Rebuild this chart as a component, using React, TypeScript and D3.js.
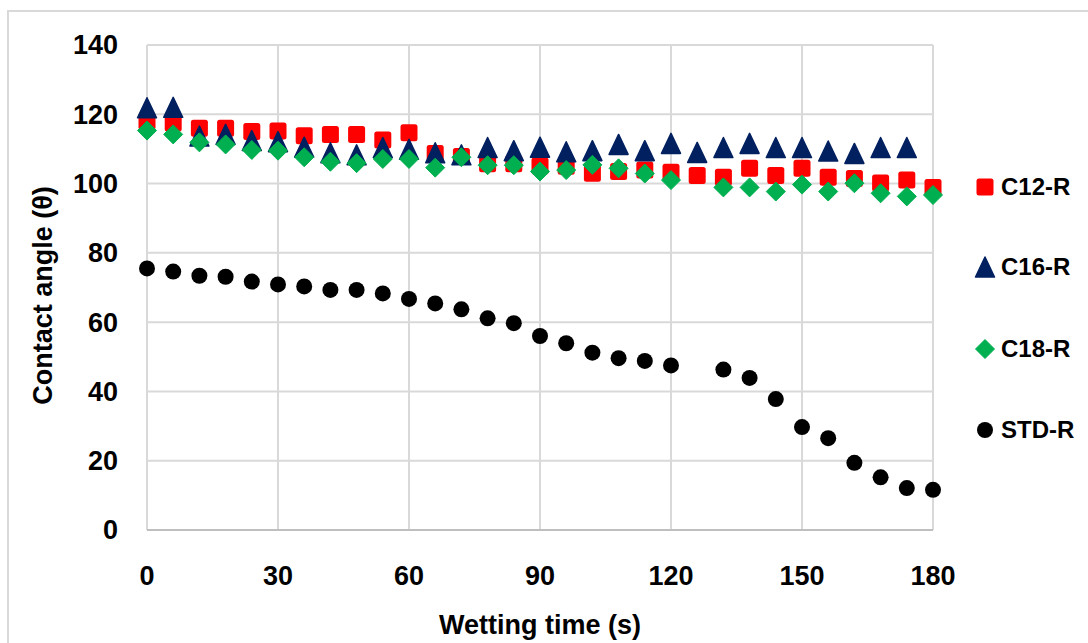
import React from "react";
import * as d3 from "d3";

const times = [0, 6, 12, 18, 24, 30, 36, 42, 48, 54, 60, 66, 72, 78, 84, 90, 96, 102, 108, 114, 120, 126, 132, 138, 144, 150, 156, 162, 168, 174, 180];
const c12 = [118, 117.5, 116, 116, 115, 115.2, 113.8, 114.2, 114.2, 112.6, 114.7, 108.7, 107.8, 105.7, 105.7, 105.1, 105, 103, 103.5, 103.9, 103.3, 102.3, 101.8, 104.4, 102.3, 104.4, 101.8, 101.5, 100.2, 101, 98.9];
const c16: (number | null)[] = [121.9, 122, 113.7, 114.2, 112.4, 112.1, 110.5, 108.9, 108.3, 110.4, 109.9, 108.9, 108.3, 110.4, 109.5, 110.5, 109.2, 109.5, 111.3, 109.5, 111.6, 109.0, 110.4, 111.6, 110.4, 110.4, 109.4, 108.7, 110.4, 110.4, null];
const c18: (number | null)[] = [115.3, 114.2, 111.9, 111.3, 109.7, 109.5, 107.6, 106.3, 105.9, 107.1, 107.1, 104.6, 107.6, 105.3, 105.3, 103.5, 103.9, 105.4, 104.4, 102.9, 101.0, null, 98.9, 98.9, 97.7, 99.7, 97.7, 100.1, 97.2, 96.3, 96.7];
const std: (number | null)[] = [75.5, 74.6, 73.4, 73.1, 71.7, 70.9, 70.3, 69.3, 69.3, 68.3, 66.7, 65.4, 63.7, 61.1, 59.7, 56, 53.9, 51.2, 49.6, 48.8, 47.5, null, 46.3, 43.9, 37.8, 29.7, 26.5, 19.4, 15.2, 12.1, 11.6];

const xTicks = [0, 30, 60, 90, 120, 150, 180];
const yTicks = [0, 20, 40, 60, 80, 100, 120, 140];
const seriesNames = ["C12-R", "C16-R", "C18-R", "STD-R"];

const FONT = "'Liberation Sans', Arial, sans-serif";

type Shape = "square" | "triangle" | "diamond" | "circle";

function Marker({ shape, x, y, color }: { shape: Shape; x: number; y: number; color: string }) {
  if (shape === "square") {
    return <rect x={x - 8.5} y={y - 8.5} width={17} height={17} rx={2.5} fill={color} />;
  }
  if (shape === "triangle") {
    const p = d3.path();
    p.moveTo(x, y - 10);
    p.lineTo(x + 9.5, y + 10);
    p.lineTo(x - 9.5, y + 10);
    p.closePath();
    return <path d={p.toString()} fill={color} stroke={color} strokeWidth={1.5} strokeLinejoin="round" />;
  }
  if (shape === "diamond") {
    const p = d3.path();
    p.moveTo(x, y - 9.5);
    p.lineTo(x + 9.5, y);
    p.lineTo(x, y + 9.5);
    p.lineTo(x - 9.5, y);
    p.closePath();
    return <path d={p.toString()} fill={color} stroke={color} strokeWidth={1} strokeLinejoin="round" />;
  }
  return <circle cx={x} cy={y} r={8} fill={color} />;
}

export default function App() {
  const W = 1088;
  const H = 643;
  const x = d3.scaleLinear().domain([0, 180]).range([147, 933]);
  const y = d3.scaleLinear().domain([0, 140]).range([530, 45]);

  const series: { name: string; values: (number | null)[]; shape: Shape; color: string }[] = [
    { name: seriesNames[0], values: c12, shape: "square", color: "#ff0000" },
    { name: seriesNames[1], values: c16, shape: "triangle", color: "#002060" },
    { name: seriesNames[2], values: c18, shape: "diamond", color: "#00b050" },
    { name: seriesNames[3], values: std, shape: "circle", color: "#000000" },
  ];

  const legendY = [187, 267, 349, 430];

  return (
    <svg
      width={W}
      height={H}
      style={{ position: "absolute", left: 0, top: 0, background: "#fff" }}
      fontFamily={FONT}
    >
      <rect x={0} y={0} width={W} height={H} fill="#fff" />
      <rect x={8} y={11} width={W + 20} height={H + 20} fill="none" stroke="#d9d9d9" strokeWidth={2} />

      {/* gridlines */}
      {yTicks.map((t) => (
        <line key={"gy" + t} x1={x(0)} x2={x(180)} y1={y(t)} y2={y(t)} stroke="#d9d9d9" strokeWidth={2} />
      ))}
      {xTicks.map((t) => (
        <line key={"gx" + t} x1={x(t)} x2={x(t)} y1={y(140)} y2={y(0)} stroke="#d9d9d9" strokeWidth={2} />
      ))}
      <line x1={x(0)} x2={x(180)} y1={y(0)} y2={y(0)} stroke="#bfbfbf" strokeWidth={2} />

      {/* y tick labels */}
      {yTicks.map((t) => (
        <text key={"ty" + t} x={118} y={y(t)} dy="0.35em" textAnchor="end" fontSize={27} fontWeight="bold" fill="#000">
          {t}
        </text>
      ))}
      {/* x tick labels */}
      {xTicks.map((t) => (
        <text key={"tx" + t} x={x(t)} y={576} dy="0.35em" textAnchor="middle" fontSize={27} fontWeight="bold" fill="#000">
          {t}
        </text>
      ))}

      {/* axis titles */}
      <text x={(x(0) + x(180)) / 2} y={625} dy="0.35em" textAnchor="middle" fontSize={27} fontWeight="bold" fill="#000">
        Wetting time (s)
      </text>
      <text
        transform={`translate(43, ${(y(0) + y(140)) / 2 + 8}) rotate(-90)`}
        dy="0.35em"
        textAnchor="middle"
        fontSize={27}
        fontWeight="bold"
        fill="#000"
      >
        Contact angle (θ)
      </text>

      {/* markers */}
      {series.map((s) => (
        <g key={s.name}>
          {s.values.map((v, i) =>
            v == null ? null : <Marker key={i} shape={s.shape} x={x(times[i])} y={y(v)} color={s.color} />
          )}
        </g>
      ))}

      {/* legend */}
      {series.map((s, i) => (
        <g key={"lg" + s.name}>
          <Marker shape={s.shape} x={985} y={legendY[i]} color={s.color} />
          <text x={1001} y={legendY[i]} dy="0.35em" fontSize={24} fontWeight="bold" fill="#000">
            {s.name}
          </text>
        </g>
      ))}
    </svg>
  );
}
